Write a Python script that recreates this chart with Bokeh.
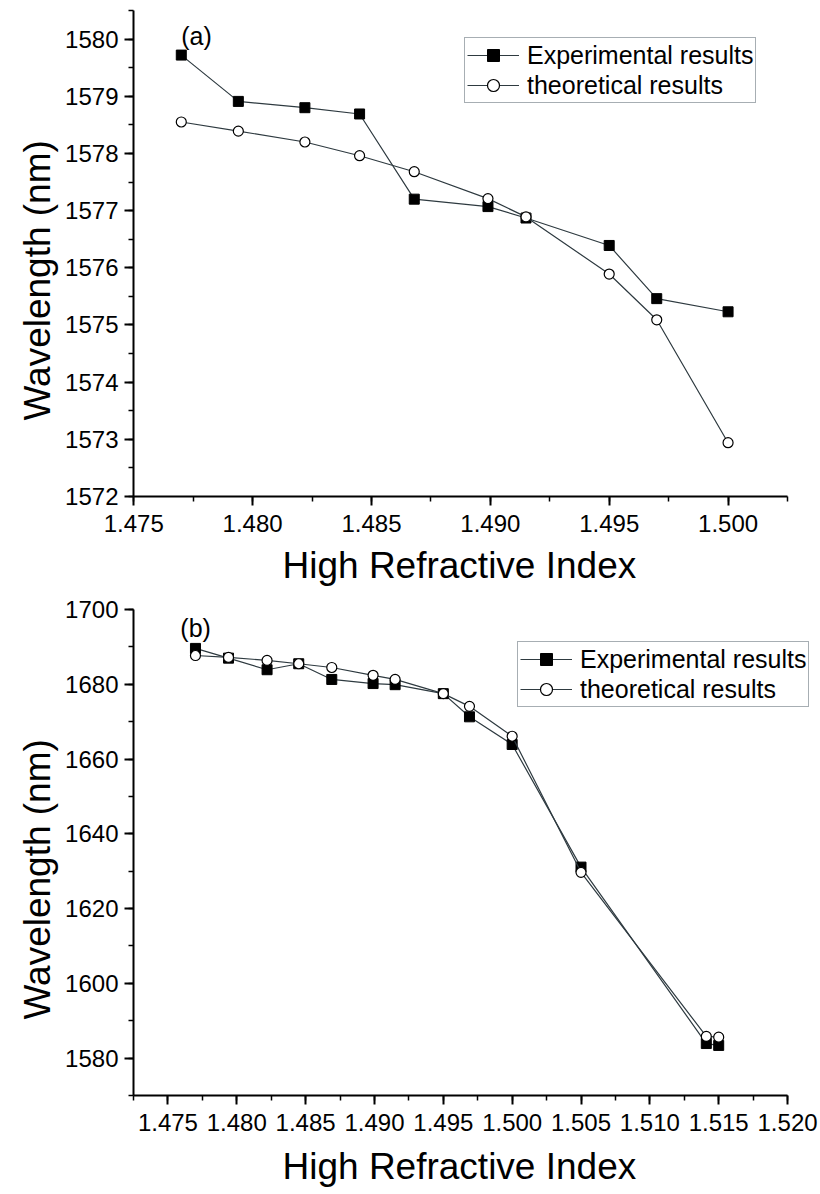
from bokeh.plotting import figure
from bokeh.layouts import column
from bokeh.models import Range1d, SingleIntervalTicker, NumeralTickFormatter, Label, Title
from bokeh.embed import file_html
from bokeh.resources import INLINE

# ---- data ----
n_a = [1.4770, 1.4794, 1.4822, 1.4845, 1.4868, 1.4899, 1.4915, 1.4950, 1.4970, 1.5000]
exp_a = [1579.72, 1578.91, 1578.80, 1578.69, 1577.20, 1577.07, 1576.87, 1576.39, 1575.46, 1575.23]
theo_a = [1578.55, 1578.39, 1578.20, 1577.96, 1577.68, 1577.21, 1576.89, 1575.89, 1575.09, 1572.94]

n_b = [1.4770, 1.4794, 1.4822, 1.4845, 1.4869, 1.4899, 1.4915, 1.4950, 1.4969, 1.5000, 1.5050, 1.5141, 1.5150]
exp_b = [1689.6, 1687.0, 1683.9, 1685.5, 1681.3, 1680.2, 1679.9, 1677.5, 1671.3, 1663.9, 1631.1, 1583.9, 1583.4]
theo_b = [1687.7, 1687.2, 1686.4, 1685.5, 1684.5, 1682.4, 1681.3, 1677.5, 1674.1, 1666.1, 1629.7, 1585.8, 1585.6]

labels = ["Experimental results", "theoretical results"]
x_title = "High Refractive Index"
y_title = "Wavelength (nm)"

FONT = "Liberation Sans"
LINE = "#2e3a40"


def panel(xs, ye, yt, xr, xbounds, yr, xint, yint, tag, tag_xy, leg_loc,
          frame_w, border_top, border_right, border_bottom, xt_standoff):
    p = figure(frame_width=frame_w, frame_height=486,
               x_range=Range1d(*xr), y_range=Range1d(*yr),
               output_backend="svg", toolbar_location=None,
               min_border_left=133, min_border_right=border_right,
               min_border_top=border_top, min_border_bottom=border_bottom)
    p.outline_line_color = None
    p.grid.visible = False
    p.background_fill_color = "white"
    p.border_fill_color = "white"

    p.xaxis.ticker = SingleIntervalTicker(interval=xint, num_minor_ticks=2)
    p.yaxis.ticker = SingleIntervalTicker(interval=yint, num_minor_ticks=2)
    p.xaxis.formatter = NumeralTickFormatter(format="0.000")
    p.yaxis.formatter = NumeralTickFormatter(format="0")
    p.xaxis.bounds = xbounds

    for ax in (p.xaxis, p.yaxis):
        ax.axis_line_width = 2
        ax.axis_line_color = "black"
        ax.major_tick_line_width = 2
        ax.major_tick_line_color = "black"
        ax.minor_tick_line_width = 1.5
        ax.minor_tick_line_color = "black"
        ax.major_tick_in = 0
        ax.major_tick_out = 9
        ax.minor_tick_in = 0
        ax.minor_tick_out = 5
        ax.major_label_text_font = FONT
        ax.major_label_text_font_size = "24px"
        ax.major_label_text_color = "black"
    p.xaxis.major_label_standoff = 9
    p.yaxis.major_label_standoff = 6

    # axis titles, anchored at the same place on both panels
    p.add_layout(Title(text=x_title, align="left", offset=149, standoff=xt_standoff,
                       text_font=FONT, text_font_size="37px",
                       text_font_style="normal", text_color="black"), "below")
    p.add_layout(Title(text=y_title, align="left", offset=76, standoff=10,
                       text_font=FONT, text_font_size="37px",
                       text_font_style="normal", text_color="black"), "left")

    p.line(xs, ye, line_color=LINE, line_width=1.2, legend_label=labels[0])
    p.scatter(xs, ye, marker="square", size=10, fill_color="black",
              line_color="black", legend_label=labels[0])
    p.line(xs, yt, line_color=LINE, line_width=1.2, legend_label=labels[1])
    p.scatter(xs, yt, marker="circle", size=10, fill_color="white",
              line_color="black", line_width=1.2, legend_label=labels[1])

    lg = p.legend[0]
    lg.location = leg_loc
    lg.label_text_font = FONT
    lg.label_text_font_size = "25px"
    lg.label_text_color = "black"
    lg.glyph_width = 52
    lg.glyph_height = 30
    lg.label_height = 30
    lg.label_standoff = 8
    lg.padding = 2
    lg.spacing = 0
    lg.margin = 0
    lg.border_line_color = "#4f5d68"
    lg.border_line_width = 1.5
    lg.background_fill_alpha = 1.0

    p.add_layout(Label(x=tag_xy[0], y=tag_xy[1], text=tag, text_font=FONT,
                       text_font_size="25px", text_color="black",
                       text_baseline="middle", text_align="left"))
    return p


pa = panel(n_a, exp_a, theo_a, (1.47499, 1.5025), (1.47499, 1.5025), (1571.999, 1580.5),
           0.005, 1, "(a)", (1.4770, 1580.05), (331, 393), 654, 10, 33, 95, 17)
pb = panel(n_b, exp_b, theo_b, (1.4725, 1.52203), (1.4725, 1.52001), (1570, 1700.01),
           0.005, 20, "(b)", (1.4759, 1695.1), (384, 388), 682, 15, 5, 95, 21)

layout = column(pa, pb, spacing=0)
open("out.html", "w").write(file_html(layout, INLINE))
